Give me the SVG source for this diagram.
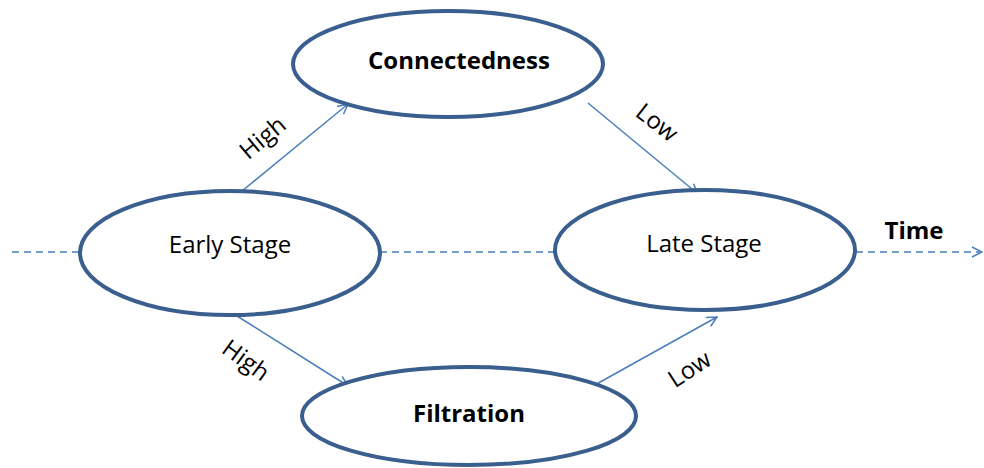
<svg xmlns="http://www.w3.org/2000/svg" width="984" height="468" viewBox="0 0 984 468">
<style>
.node{fill:#fff;stroke:#3A5F8E;stroke-width:4}
.lbl{font-family:"Open Sans","Liberation Sans",sans-serif;font-size:24px;fill:#000;text-anchor:middle}
.b{font-weight:bold}
.edge{stroke:#4A7EBB;stroke-width:1.5;fill:none}
.dash{stroke:#4A7EBB;stroke-width:1.5;fill:none;stroke-dasharray:7 5}
</style>
<defs>
<marker id="ah" viewBox="0 0 12 12" refX="11" refY="6" markerWidth="12" markerHeight="12" markerUnits="userSpaceOnUse" orient="auto">
<path d="M1,1 L11,6 L1,11" fill="none" stroke="#4A7EBB" stroke-width="1.5"/>
</marker>
</defs>
<g id="connectors">
<line class="dash" x1="12" y1="252" x2="80" y2="252"/>
<line class="dash" x1="380" y1="252" x2="555" y2="252"/>
<line class="dash" x1="856" y1="252" x2="982" y2="252" marker-end="url(#ah)"/>
<line class="edge" x1="236" y1="196" x2="348" y2="104" marker-end="url(#ah)"/>
<line class="edge" x1="588" y1="103" x2="698" y2="194" marker-end="url(#ah)"/>
<line class="edge" x1="237" y1="316" x2="348" y2="386" marker-end="url(#ah)"/>
<line class="edge" x1="593" y1="386" x2="717" y2="317" marker-end="url(#ah)"/>
<text class="lbl" transform="translate(268,144) rotate(-40)">High</text>
<text class="lbl" transform="translate(652,129) rotate(38)">Low</text>
<text class="lbl" transform="translate(241,367) rotate(36)">High</text>
<text class="lbl" transform="translate(694,376) rotate(-33)">Low</text>
<text class="lbl b" x="914" y="239">Time</text>
</g>
<g id="early">
<ellipse class="node" cx="230" cy="253" rx="150" ry="62"/>
<text class="lbl" x="230" y="253">Early Stage</text>
</g>
<g id="connectedness">
<ellipse class="node" cx="448" cy="64" rx="155" ry="53"/>
<text class="lbl b" x="459" y="69">Connectedness</text>
</g>
<g id="late">
<ellipse class="node" cx="705" cy="250" rx="150" ry="60"/>
<text class="lbl" x="704" y="252">Late Stage</text>
</g>
<g id="filtration">
<ellipse class="node" cx="469" cy="416" rx="167" ry="49"/>
<text class="lbl b" x="469" y="422">Filtration</text>
</g>
</svg>
